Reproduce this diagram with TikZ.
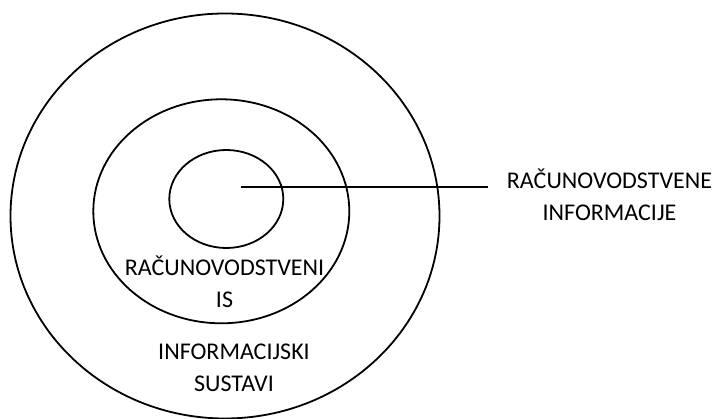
\documentclass[tikz,border=0pt]{standalone}
\usepackage{fontspec}
\setmainfont{Carlito}
\begin{document}
\begin{tikzpicture}[x=1pt,y=-1pt,
  ring/.style={draw=black,line width=1.8pt},
  lbl/.style={font=\fontsize{24}{32}\selectfont,align=center,inner sep=0pt}]
\useasboundingbox (0,0) rectangle (716,419);
\begin{scope}
\clip (0,0) rectangle (716,419);
\draw[ring] (225,216) ellipse [x radius=214.5,y radius=202.5];
\end{scope}
\draw[ring] (221.3,211.3) ellipse [x radius=128,y radius=112];
\draw[ring] (226.3,199) ellipse [x radius=57,y radius=49];
\coordinate (c) at (240.7,187);
\coordinate (e) at (488,187);
\draw[line width=2pt] (c) -- (e);
\node[lbl] (ri) at (609.5,195) {RAČUNOVODSTVENE\\INFORMACIJE};
\node[lbl] (ris) at (224.5,281.5) {RAČUNOVODSTVENI\\IS};
\node[lbl] (is) at (234,368) {INFORMACIJSKI\\SUSTAVI};
\end{tikzpicture}
\end{document}
